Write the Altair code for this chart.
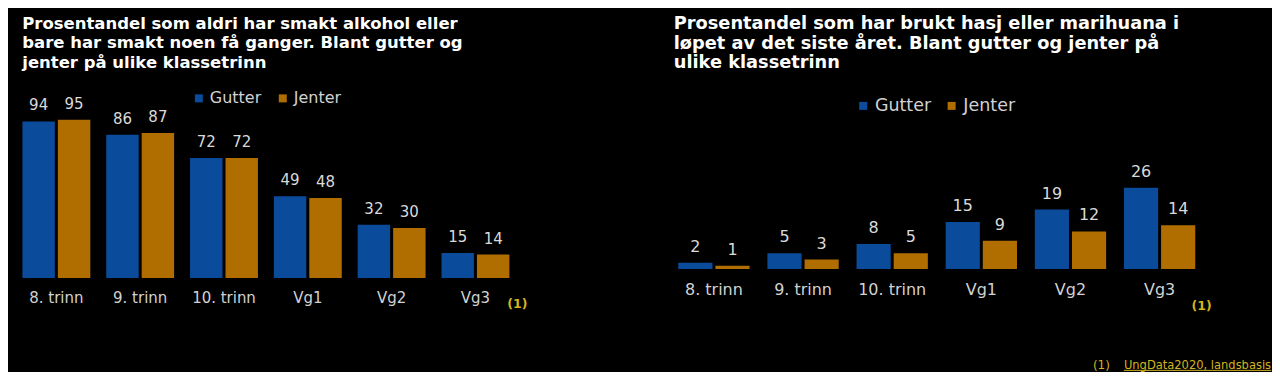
import altair as alt
import pandas as pd

# ---------------- data ----------------
categories = ["8. trinn", "9. trinn", "10. trinn", "Vg1", "Vg2", "Vg3"]
series = ["Gutter", "Jenter"]
alkohol_gutter = [94, 86, 72, 49, 32, 15]
alkohol_jenter = [95, 87, 72, 48, 30, 14]
hasj_gutter = [2, 5, 8, 15, 19, 26]
hasj_jenter = [1, 3, 5, 9, 12, 14]

title_left = ("Prosentandel som aldri har smakt alkohol eller\n"
              "bare har smakt noen få ganger. Blant gutter og\n"
              "jenter på ulike klassetrinn")
title_right = ("Prosentandel som har brukt hasj eller marihuana i\n"
               "løpet av det siste året. Blant gutter og jenter på\n"
               "ulike klassetrinn")
note_mark = "(1)"
source_text = "UngData2020, landsbasis"

# ---------------- style ----------------
BLUE = "#0a4b9b"
ORANGE = "#b06e00"
LABEL = "#d2d2d2"
VALUE = "#dadada"
NOTE = "#d4b41e"
FONT = "DejaVu Sans"


def long_table(g, j):
    rows = []
    for c, a, b in zip(categories, g, j):
        rows.append({"trinn": c, "kjonn": series[0], "verdi": a})
        rows.append({"trinn": c, "kjonn": series[1], "verdi": b})
    return pd.DataFrame(rows)


def panel(df, title, width, height, ymax, pi, po, opi, fs, title_fs,
          title_x, title_y, label_pad, leg_x, leg_y, leg_fs, leg_off, leg_colpad):
    xs = alt.Scale(paddingInner=pi, paddingOuter=po)
    xo = alt.Scale(paddingInner=opi, paddingOuter=0)
    ys = alt.Scale(domain=[0, ymax], nice=False, zero=True)
    x = alt.X("trinn:N", sort=categories, scale=xs,
              axis=alt.Axis(title=None, domain=False, ticks=False, tickSize=0,
                            labelAngle=0, labelFontSize=fs, labelFont=FONT,
                            labelColor=LABEL, labelPadding=label_pad, grid=False))
    xoff = alt.XOffset("kjonn:N", sort=series, scale=xo)
    y = alt.Y("verdi:Q", scale=ys, axis=None)

    bars = alt.Chart(df).mark_bar().encode(
        x=x, xOffset=xoff, y=y,
        color=alt.Color("kjonn:N", sort=series,
                        scale=alt.Scale(domain=series, range=[BLUE, ORANGE]),
                        legend=alt.Legend(orient="none", legendX=leg_x, legendY=leg_y,
                                          direction="horizontal", title=None,
                                          symbolType="square", symbolSize=64,
                                          symbolStrokeWidth=0, labelFontSize=leg_fs,
                                          labelFont=FONT, labelColor=LABEL,
                                          labelOffset=leg_off, columnPadding=leg_colpad,
                                          padding=0)),
    )
    values = alt.Chart(df).mark_text(
        baseline="alphabetic", dy=-11, fontSize=fs, font=FONT, color=VALUE
    ).encode(x=x, xOffset=xoff, y=y, text="verdi:Q")

    ttl = alt.Chart(pd.DataFrame({"t": [title]})).mark_text(
        align="left", baseline="alphabetic", lineBreak="\n", lineHeight=19.5,
        fontSize=title_fs, fontWeight="bold", font=FONT, color="#ffffff"
    ).encode(x=alt.value(title_x), y=alt.value(title_y), text="t:N")

    return alt.layer(bars, values, ttl).properties(width=width, height=height)


left = panel(long_table(alkohol_gutter, alkohol_jenter), title_left,
             width=516.2, height=270, ymax=162, pi=0.19, po=0.172, opi=0.085,
             fs=15, title_fs=16.5, title_x=14.3, title_y=20.7, label_pad=12.6,
             leg_x=183, leg_y=82.3, leg_fs=16, leg_off=3, leg_colpad=13)

left_note = alt.Chart(pd.DataFrame({"t": [note_mark]})).mark_text(
    align="center", baseline="alphabetic", fontSize=12.5, fontWeight="bold",
    font=FONT, color=NOTE
).encode(x=alt.value(509.7), y=alt.value(300.5), text="t:N")
left = alt.layer(left, left_note)

right = panel(long_table(hasj_gutter, hasj_jenter), title_right,
              width=541.4, height=261, ymax=83.4, pi=0.2, po=0.1345, opi=0.08,
              fs=16, title_fs=17.8, title_x=7.5, title_y=21.2, label_pad=12.6,
              leg_x=188.3, leg_y=88.7, leg_fs=17.5, leg_off=3, leg_colpad=11.5)

right_note = alt.Chart(pd.DataFrame({"t": [note_mark]})).mark_text(
    align="center", baseline="alphabetic", fontSize=12.5, fontWeight="bold",
    font=FONT, color=NOTE
).encode(x=alt.value(535.8), y=alt.value(302.5), text="t:N")

src_mark = alt.Chart(pd.DataFrame({"t": [note_mark]})).mark_text(
    align="left", baseline="alphabetic", fontSize=12, font=FONT, color=NOTE
).encode(x=alt.value(427), y=alt.value(361), text="t:N")

src_text = alt.Chart(pd.DataFrame({"t": [source_text]})).mark_text(
    align="left", baseline="alphabetic", fontSize=11.5, font=FONT, color=NOTE
).encode(x=alt.value(458), y=alt.value(361), text="t:N")

src_line = alt.Chart(pd.DataFrame({"t": [source_text]})).mark_rule(
    color=NOTE, strokeWidth=1
).encode(x=alt.value(458), x2=alt.value(605.5), y=alt.value(362.5))

right = alt.layer(right, right_note, src_mark, src_text, src_line)

chart = alt.hconcat(left, right, spacing=141.8, bounds="flush").resolve_scale(
    x="independent", y="independent", color="independent", xOffset="independent"
).resolve_legend(color="independent").properties(padding=0).configure(
    background="#000000"
).configure_view(stroke=None)

chart.save("out.html", embed_options={"renderer": "svg", "actions": False})
